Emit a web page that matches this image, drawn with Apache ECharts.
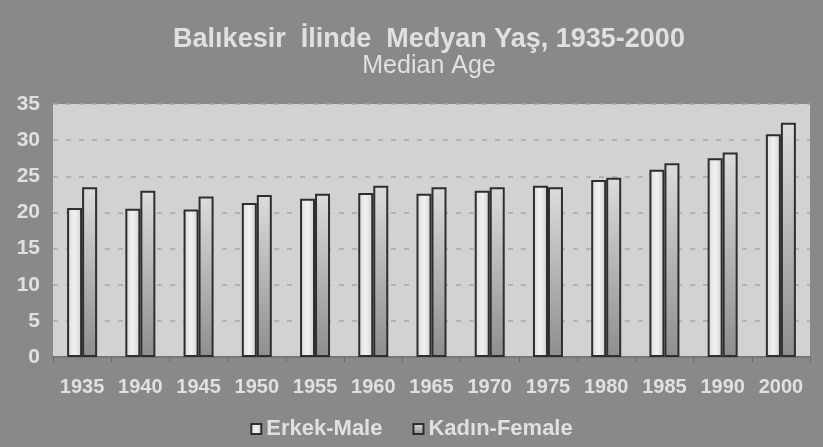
<!DOCTYPE html>
<html>
<head>
<meta charset="utf-8">
<script src="https://cdn.jsdelivr.net/npm/echarts@6/dist/echarts.min.js"></script>
<style>
  html, body { margin: 0; padding: 0; background: #fff; }
  #main { width: 823px; height: 447px; }
</style>
</head>
<body>
<div id="main"></div>
<script>
var years = ['1935', '1940', '1945', '1950', '1955', '1960', '1965', '1970', '1975', '1980', '1985', '1990', '2000'];
var male = [20.6, 20.5, 20.4, 21.3, 21.9, 22.7, 22.6, 23.0, 23.7, 24.5, 25.9, 27.5, 30.8];
var female = [23.5, 23.0, 22.2, 22.4, 22.6, 23.7, 23.5, 23.5, 23.5, 24.8, 26.8, 28.3, 32.4];

var myChart = echarts.init(document.getElementById('main'));

// gradient fills similar to the scanned bars
var maleFill = new echarts.graphic.LinearGradient(0, 0, 1, 0, [
  { offset: 0, color: '#d8d8d8' },
  { offset: 0.5, color: '#f2f2f2' },
  { offset: 1, color: '#cfcfcf' }
]);
var femaleFill = new echarts.graphic.LinearGradient(0, 0, 0, 1, [
  { offset: 0, color: '#dcdcdc' },
  { offset: 1, color: '#8e8e8e' }
]);

var option = {
  backgroundColor: '#898989',
  textStyle: { fontFamily: 'Liberation Sans, Arial, sans-serif' },
  title: {
    text: 'Balıkesir  İlinde  Medyan Yaş, 1935-2000',
    subtext: 'Median Age',
    left: 424,
    textAlign: 'center',
    top: 21,
    itemGap: 1,
    textStyle: { color: '#e0e0e0', fontSize: 27, fontWeight: 'bold' },
    subtextStyle: { color: '#e0e0e0', fontSize: 25 }
  },
  legend: {
    top: 413,
    left: 'center',
    itemWidth: 10,
    itemHeight: 10,
    itemGap: 30,
    icon: 'rect',
    textStyle: { color: '#e0e0e0', fontSize: 22, fontWeight: 'bold' },
    data: ['Erkek-Male', 'Kadın-Female']
  },
  grid: {
    left: 53,
    right: 13,
    top: 104,
    bottom: 90,
    show: true,
    backgroundColor: '#d2d2d2',
    borderWidth: 0
  },
  xAxis: {
    type: 'category',
    data: years,
    axisLine: { lineStyle: { color: '#777', width: 2 } },
    axisTick: { show: true, length: 5, lineStyle: { color: '#6a6a6a' } },
    axisLabel: { color: '#e0e0e0', fontSize: 20, fontWeight: 'bold', margin: 20 }
  },
  yAxis: {
    type: 'value',
    min: 0,
    max: 35,
    interval: 5,
    axisLine: { show: false },
    axisTick: { show: false },
    axisLabel: { color: '#e0e0e0', fontSize: 21, fontWeight: 'bold', margin: 13 },
    splitLine: { lineStyle: { color: '#a8a8a8', type: [5, 8], width: 1.5 } }
  },
  series: [
    {
      name: 'Erkek-Male',
      type: 'bar',
      data: male,
      barWidth: 15,
      barGap: '0%',
      itemStyle: { color: maleFill, borderColor: '#2e2e2e', borderWidth: 2 }
    },
    {
      name: 'Kadın-Female',
      type: 'bar',
      data: female,
      barWidth: 15,
      itemStyle: { color: femaleFill, borderColor: '#2e2e2e', borderWidth: 2 }
    }
  ]
};

myChart.setOption(option);
</script>
</body>
</html>
